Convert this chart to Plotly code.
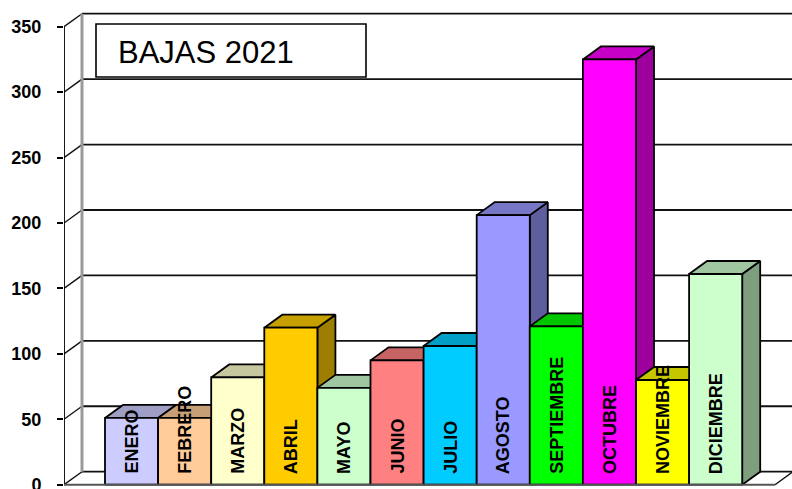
import plotly.graph_objects as go

# Monthly figures
months = ["ENERO", "FEBRERO", "MARZO", "ABRIL", "MAYO", "JUNIO",
          "JULIO", "AGOSTO", "SEPTIEMBRE", "OCTUBRE", "NOVIEMBRE", "DICIEMBRE"]
values = [51, 51, 82, 120, 74, 95, 106, 206, 121, 325, 80, 161]
front_colors = ["#CCCCFF", "#FFCC99", "#FFFFCC", "#FFCC00", "#CCFFCC", "#FF8080",
                "#00CCFF", "#9999FF", "#00FF00", "#FF00FF", "#FFFF00", "#CCFFCC"]
y_ticks = [0, 50, 100, 150, 200, 250, 300, 350]
title_text = "BAJAS 2021"

# ---- page geometry (pixels) ----
W, H = 792, 489
LEFT = 64            # front y axis position
BAR_PX = 53.1        # width of one category on the front plane
FIRST_BAR_PX = 105   # left edge of first bar
ZERO_PX = 484.7      # front floor line
PX_PER_UNIT = 458 / 350
FLOOR_RIGHT_PX = 775
DEPTH_X_PX, DEPTH_Y_PX = 18, 13

x_left = -0.5 - (FIRST_BAR_PX - LEFT) / BAR_PX
x_right = x_left + (W - LEFT) / BAR_PX
y_bottom = -(H - ZERO_PX) / PX_PER_UNIT
y_top = ZERO_PX / PX_PER_UNIT
dx = DEPTH_X_PX / BAR_PX
dy = DEPTH_Y_PX / PX_PER_UNIT
x_floor_right = x_left + (FLOOR_RIGHT_PX - LEFT) / BAR_PX
y_max = y_ticks[-1]

FONT = "Arial, Liberation Sans, sans-serif"


def shade(hex_color, k):
    h = hex_color.lstrip("#")
    r, g, b = (int(h[i:i + 2], 16) for i in (0, 2, 4))
    return "#%02X%02X%02X" % (int(r * k), int(g * k), int(b * k))


def px_paper_x(px):
    return (px - LEFT) / (W - LEFT)


def px_paper_y(py):
    return 1 - py / H


fig = go.Figure()


def add_lines(xs, ys, color, width):
    fig.add_trace(go.Scatter(x=xs, y=ys, mode="lines",
                             line=dict(color=color, width=width),
                             hoverinfo="skip", showlegend=False))


# back wall gridlines
gx, gy = [], []
for v in y_ticks:
    gx += [x_left + dx, x_right + 1, None]
    gy += [v + dy, v + dy, None]
add_lines(gx, gy, "#111111", 1.8)

# side wall: diagonals from the front axis to the back wall
sx, sy = [], []
for v in y_ticks:
    sx += [x_left, x_left + dx, None]
    sy += [v, v + dy, None]
add_lines(sx, sy, "#111111", 1.4)

# back edge of the side wall
add_lines([x_left + dx, x_left + dx], [dy, y_max + dy], "#9A9A9A", 3)

# floor right edge
add_lines([x_floor_right, x_floor_right + dx], [0, dy], "#111111", 1.4)

# 3D columns, drawn left to right so that each one hides its neighbour's side
for i, (v, c) in enumerate(zip(values, front_colors)):
    x0, x1 = i - 0.5, i + 0.5
    side = dict(x=[x1, x1 + dx, x1 + dx, x1, x1], y=[0, dy, v + dy, v, 0], k=0.62)
    top = dict(x=[x0, x1, x1 + dx, x0 + dx, x0], y=[v, v, v + dy, v + dy, v], k=0.78)
    front = dict(x=[x0, x1, x1, x0, x0], y=[0, 0, v, v, 0], k=1.0)
    for face in (side, top, front):
        fig.add_trace(go.Scatter(
            x=face["x"], y=face["y"], mode="lines", fill="toself",
            fillcolor=shade(c, face["k"]),
            line=dict(color="#000000", width=1.8),
            hoverinfo="skip", showlegend=False))

# front axis line and front floor edge
add_lines([x_left, x_left], [0, y_max], "#000000", 1.8)
add_lines([x_left, x_floor_right], [0, 0], "#555555", 2)

# month names inside the columns
label_base = (ZERO_PX - 476) / PX_PER_UNIT
for i, m in enumerate(months):
    fig.add_annotation(x=i, y=label_base, text=m, showarrow=False,
                       textangle=-90, xanchor="center", yanchor="bottom",
                       font=dict(family=FONT, size=18, color="#000000", weight="bold"))

# title box
fig.add_shape(type="rect", xref="paper", yref="paper",
              x0=px_paper_x(96), x1=px_paper_x(366),
              y0=px_paper_y(77), y1=px_paper_y(24),
              line=dict(color="#000000", width=1.6), fillcolor="#FFFFFF", layer="above")
fig.add_annotation(xref="paper", yref="paper", x=px_paper_x(116), y=px_paper_y(53),
                   text=title_text, showarrow=False, xanchor="left", yanchor="middle",
                   font=dict(family=FONT, size=31, color="#000000"))

fig.update_layout(
    width=W, height=H,
    margin=dict(l=LEFT, r=0, t=0, b=0, autoexpand=False),
    paper_bgcolor="#FFFFFF", plot_bgcolor="#FFFFFF",
    xaxis=dict(range=[x_left, x_right], visible=False, fixedrange=True,
               automargin=False),
    yaxis=dict(range=[y_bottom, y_top], tickvals=y_ticks, showgrid=False,
               zeroline=False, showline=False, ticks="outside", ticklen=6,
               tickwidth=1.6, tickcolor="#000000", ticklabelstandoff=12,
               ticklabeloverflow="allow", automargin=False,
               tickfont=dict(family=FONT, size=18, color="#000000", weight="bold"),
               fixedrange=True),
)

fig.write_html("out.html")
